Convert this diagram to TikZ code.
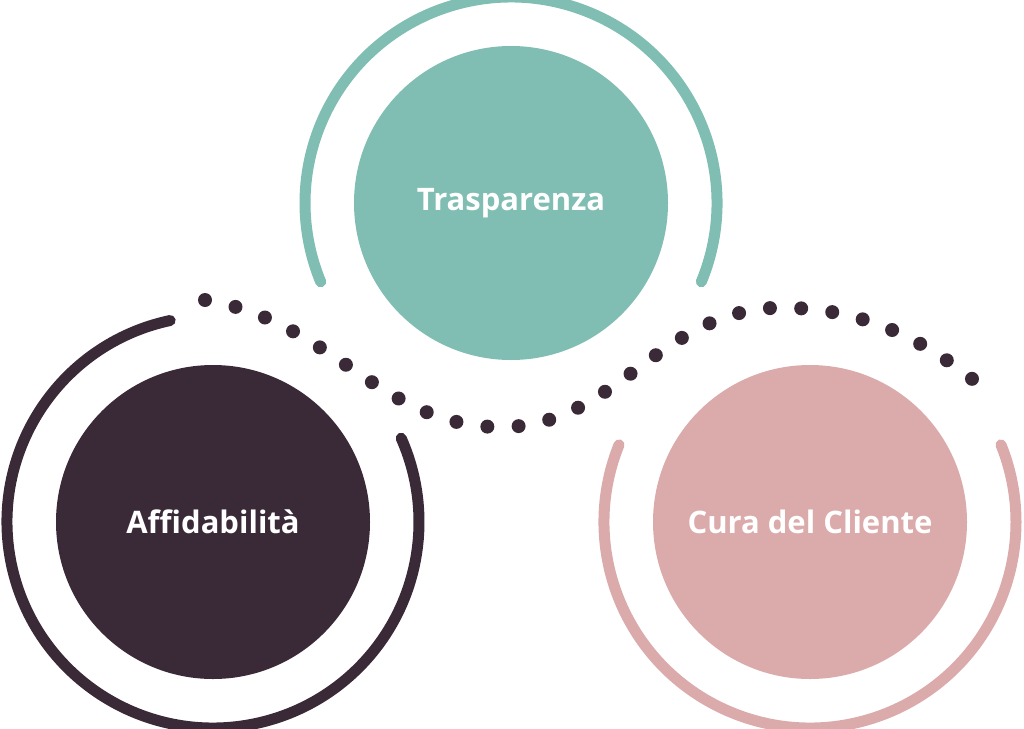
\documentclass[tikz,border=0pt]{standalone}
\usepackage{fontspec}
\setmainfont{Open Sans}
\definecolor{colTeal}{HTML}{80BDB3}
\definecolor{colDark}{HTML}{3A2A37}
\definecolor{colPink}{HTML}{DBABAB}
\begin{document}
\begin{tikzpicture}[x=1pt, y=-1pt, inner sep=0pt, outer sep=0pt,
    disc/.style={circle, minimum size=314pt, text=white, font=\fontsize{31}{34}\selectfont\bfseries},
    ring/.style={line width=11pt, line cap=round}]
  \useasboundingbox (0,0) rectangle (1024,728);
  \node[disc, fill=colTeal] (trasp) at (511,203) {Trasparenza};
  \node[disc, fill=colDark] (affid) at (213,522) {Affidabilità};
  \node[disc, fill=colPink] (cura) at (810,522) {Cura del Cliente};
  % outer rings
  \draw[ring, colTeal] ([shift={(22.5:206)}]trasp.center) arc[start angle=22.5, end angle=-202.5, radius=206];
  \draw[ring, colDark] ([shift={(-102:206)}]affid.center) arc[start angle=-102, end angle=-384, radius=206];
  \draw[ring, colPink] ([shift={(-158:206)}]cura.center) arc[start angle=-158, end angle=-382, radius=206];
  % dotted wave
  \coordinate (wA) at (205,300);
  \coordinate (wB) at (995,398);
  \draw[colDark, line width=14pt, line cap=round, dash pattern=on 0pt off 31.3pt]
    (wA) .. controls (330,320) and (380,425) .. (497,427)
    .. controls (620,430) and (660,300) .. (795,308)
    .. controls (880,312) and (940,350) .. (wB);
\end{tikzpicture}
\end{document}
